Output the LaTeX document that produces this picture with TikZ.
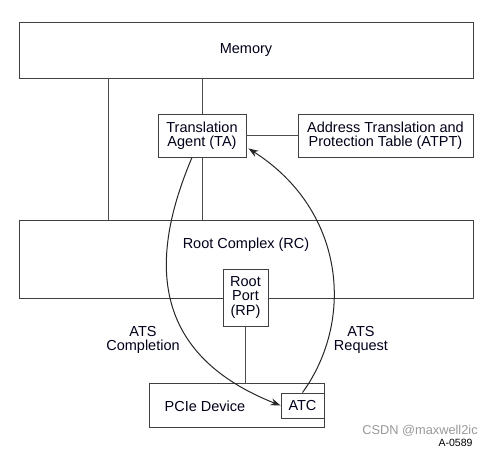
\documentclass[tikz,border=0pt]{standalone}
\usepackage{fontspec}
\setmainfont{Liberation Sans}
\usetikzlibrary{arrows.meta}
\begin{document}
\begin{tikzpicture}[x=1pt,y=-1pt,
  box/.style={draw=black!75, line width=0.9pt, fill=white, inner sep=0pt, align=center,
    font=\fontsize{14.5}{14.5}\selectfont, text=black!90!blue},
  conn/.style={draw=black!70, line width=0.9pt},
  flow/.style={draw=black!85, line width=1pt, -{Stealth[length=10pt,width=7pt]}},
  lbl/.style={align=center, font=\fontsize{14.5}{14.5}\selectfont, text=black!90!blue, inner sep=0pt}]
\useasboundingbox (0,0) rectangle (493,448);
% main boxes
\node[box, minimum width=454pt, minimum height=56pt] (Memory) at (246,50) {Memory};
\node[box, minimum width=454pt, minimum height=78pt] (RC) at (246,259) {};
\node[lbl] (RCt) at (246,245) {Root Complex (RC)};
\node[box, minimum width=88pt, minimum height=43pt] (TA) at (202,135.5) {Translation\\Agent (TA)};
\node[box, minimum width=175pt, minimum height=43pt] (ATPT) at (385.5,135.5) {Address Translation and\\Protection Table (ATPT)};
\node[box, minimum width=45pt, minimum height=57pt] (RP) at (245.5,297.5) {Root\\Port\\(RP)};
\node[box, minimum width=175pt, minimum height=44pt] (PCIe) at (236.5,405) {};
\node[lbl] (PCIet) at (205,406) {PCIe Device};
\node[box, minimum width=43pt, minimum height=25pt] (ATC) at (302.5,405.5) {ATC};
% connectors
\draw[conn] ([xshift=90pt]Memory.south west) -- ([xshift=90pt]RC.north west);
\draw[conn] (TA.north) -- (TA.north |- Memory.south);
\draw[conn] (TA.south) -- (TA.south |- RC.north);
\draw[conn] (TA.east) -- (ATPT.west);
\draw[conn] (RP.south) -- (RP.south |- PCIe.north);
% flows
\draw[flow] ([xshift=-10pt]TA.south) .. controls (155,245) and (140,350) .. (ATC.west);
\draw[flow] (ATC.north) .. controls (355,320) and (345,210) .. ([xshift=2pt,yshift=9pt]TA.south east);
% labels
\node[lbl] (lc) at (143,340) {ATS\\Completion};
\node[lbl] (lr) at (361,340) {ATS\\Request};
\node[font=\fontsize{10.5}{10.5}\selectfont, inner sep=0pt] (code) at (455.5,443) {A-0589};
\node[font=\fontsize{12.8}{12.8}\selectfont, text=black!40, inner sep=0pt] (wm) at (420,431) {CSDN @maxwell2ic};
\end{tikzpicture}
\end{document}
